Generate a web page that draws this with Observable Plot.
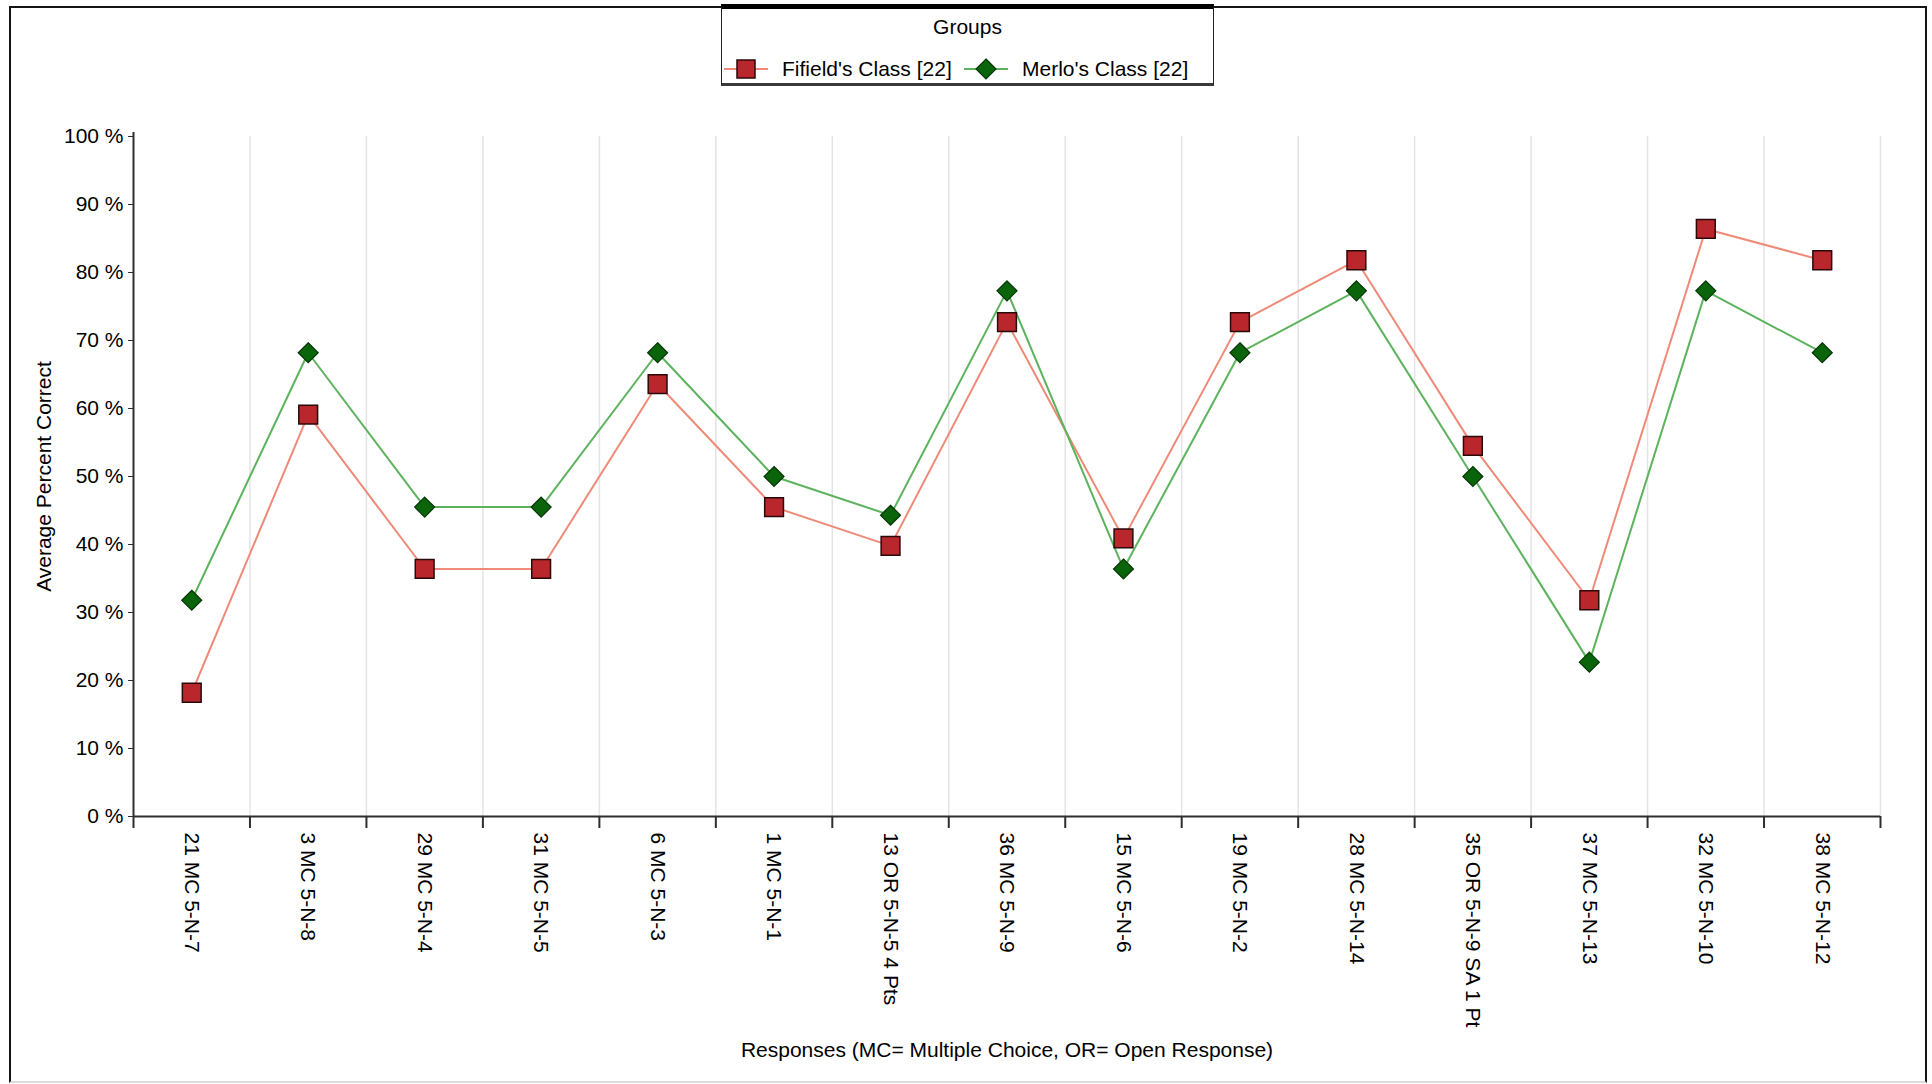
<!DOCTYPE html>
<html>
<head>
<meta charset="utf-8">
<script src="https://cdn.jsdelivr.net/npm/d3@7"></script>
<script src="https://cdn.jsdelivr.net/npm/@observablehq/plot@0.6"></script>
<style>
  html, body { margin: 0; padding: 0; background: #fff; }
  #wrap { position: relative; width: 1932px; height: 1084px; overflow: hidden; background: #fff;
          font-family: "Liberation Sans", Arial, sans-serif; color: #000; }
  #frame { position: absolute; left: 9px; top: 6px; width: 1918px; height: 1077px; box-sizing: border-box;
           border-left: 2px solid #151515; border-top: 2px solid #151515; border-right: 2px solid #151515;
           border-bottom: 2px solid #dcdcdc; }
  #chart { position: absolute; left: 0; top: 0; }
  #legend { position: absolute; left: 721px; top: 4px; width: 493px; height: 82px; box-sizing: border-box;
            border-top: 5px solid #000; border-left: 1.5px solid #222; border-right: 1.5px solid #222;
            border-bottom: 3px solid #3a3a3a; background: #fff; font-size: 21px; }
  #legend .title { position: absolute; left: 0; right: 0; top: 6px; text-align: center; }
  #legend .item { position: absolute; top: 45px; display: flex; align-items: center; white-space: nowrap; }
  #legend svg { display: block; margin-right: 14px; }
</style>
</head>
<body>
<div id="wrap">
  <div id="frame"></div>
  <div id="chart"></div>
  <div id="legend"></div>
</div>
<script>
// ---- data ----
const categories = [
  "21 MC 5-N-7", "3 MC 5-N-8", "29 MC 5-N-4", "31 MC 5-N-5", "6 MC 5-N-3",
  "1 MC 5-N-1", "13 OR 5-N-5 4 Pts", "36 MC 5-N-9", "15 MC 5-N-6", "19 MC 5-N-2",
  "28 MC 5-N-14", "35 OR 5-N-9 SA 1 Pt", "37 MC 5-N-13", "32 MC 5-N-10", "38 MC 5-N-12"
];
const fifield = [18.2, 59.1, 36.4, 36.4, 63.6, 45.5, 39.8, 72.7, 40.9, 72.7, 81.8, 54.5, 31.8, 86.4, 81.8];
const merlo   = [31.8, 68.2, 45.5, 45.5, 68.2, 50.0, 44.3, 77.3, 36.4, 68.2, 77.3, 50.0, 22.7, 77.3, 68.2];
const yTicks = [0, 10, 20, 30, 40, 50, 60, 70, 80, 90, 100];
const seriesNames = ["Fifield's Class [22]", "Merlo's Class [22]"];
const yLabel = "Average Percent Correct";
const xLabel = "Responses (MC= Multiple Choice, OR= Open Response)";

// ---- layout / style ----
const W = 1932, H = 1084;
const ML = 133, MR = 52, MT = 136, MB = 268;
const bw = (W - ML - MR) / categories.length;
const redLine = "#ef8a78", redFill = "#b9272c", redStroke = "#2b0909";
const greenLine = "#5db35d", greenFill = "#0a650a", greenStroke = "#063506";
const axisColor = "#2e2e2e", gridColor = "#e4e4e4";

const rows = categories.map((c, i) => ({category: c, fifield: fifield[i], merlo: merlo[i]}));
const firstCat = [categories[0]];

const chart = Plot.plot({
  width: W, height: H,
  marginLeft: ML, marginRight: MR, marginTop: MT, marginBottom: MB,
  style: {fontFamily: "'Liberation Sans', Arial, sans-serif", fontSize: "21px", color: "#000", background: "transparent", overflow: "visible"},
  x: {type: "band", domain: categories, padding: 0, round: false, axis: null},
  y: {domain: [0, 100], axis: null},
  marks: [
    // vertical grid lines at category boundaries
    Plot.ruleX(categories, {x: d => d, dx: bw / 2, stroke: gridColor, strokeWidth: 1.5}),
    // boundary ticks below the x axis
    Plot.ruleX(categories, {x: d => d, dx: bw / 2, y1: 0, y2: 0, insetBottom: -12, stroke: axisColor, strokeWidth: 2}),
    // y axis line (with first tick)
    Plot.ruleX(firstCat, {x: d => d, dx: -bw / 2, insetTop: -4, insetBottom: -12, stroke: axisColor, strokeWidth: 2}),
    // x axis line
    Plot.ruleY([0], {stroke: axisColor, strokeWidth: 2}),
    Plot.axisY({ticks: yTicks, tickFormat: d => `${d} %`, tickSize: 5, tickPadding: 5, stroke: axisColor,
      label: yLabel, labelAnchor: "center", labelOffset: 97, labelArrow: false}),
    Plot.axisX({tickSize: 0, tickPadding: 16, tickRotate: 90, label: xLabel, labelAnchor: "center", labelOffset: 240, labelArrow: false}),
    Plot.line(rows, {x: "category", y: "fifield", stroke: redLine, strokeWidth: 2}),
    Plot.line(rows, {x: "category", y: "merlo", stroke: greenLine, strokeWidth: 2}),
    Plot.dot(rows, {x: "category", y: "fifield", symbol: "square", r: 10.6, fill: redFill, stroke: redStroke, strokeWidth: 1.5}),
    Plot.dot(rows, {x: "category", y: "merlo", symbol: "diamond2", r: 9, fill: greenFill, stroke: greenStroke, strokeWidth: 1.2})
  ]
});
document.getElementById("chart").appendChild(chart);

// ---- legend ----
const legend = document.getElementById("legend");
legend.innerHTML = `<div class="title">Groups</div>`;
const items = [
  {name: seriesNames[0], left: 2, line: redLine, fill: redFill, stroke: redStroke, shape: "square"},
  {name: seriesNames[1], left: 242, line: greenLine, fill: greenFill, stroke: greenStroke, shape: "diamond"}
];
items.forEach(it => {
  const div = document.createElement("div");
  div.className = "item";
  div.style.left = it.left + "px";
  const marker = it.shape === "square"
    ? `<rect x="13" y="6" width="18" height="18" fill="${it.fill}" stroke="${it.stroke}" stroke-width="1.5"/>`
    : `<path d="M22,5 L32,15 L22,25 L12,15 Z" fill="${it.fill}" stroke="${it.stroke}" stroke-width="1.2"/>`;
  div.innerHTML = `<svg width="44" height="30"><line x1="0" x2="44" y1="15" y2="15" stroke="${it.line}" stroke-width="2"/>${marker}</svg><span>${it.name}</span>`;
  legend.appendChild(div);
});
</script>
</body>
</html>
